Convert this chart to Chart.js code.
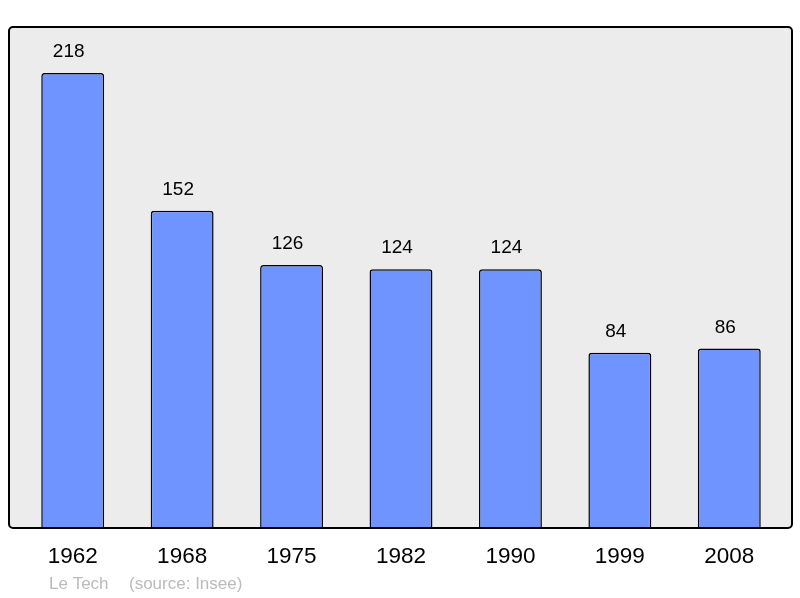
<!DOCTYPE html>
<html>
<head>
<meta charset="utf-8">
<script src="https://cdn.jsdelivr.net/npm/chart.js@4"></script>
<style>
  html, body { margin: 0; padding: 0; background: #ffffff; }
  #wrap { width: 800px; height: 598px; position: relative; }
</style>
</head>
<body>
<div id="wrap"><canvas id="myChart" width="800" height="598"></canvas></div>
<script>
const years = ["1962", "1968", "1975", "1982", "1990", "1999", "2008"];
const population = [218, 152, 126, 124, 124, 84, 86];
const yMax = 240;
const footerAuthor = "Le Tech";
const footerSource = "(source: Insee)";

const ctx = document.getElementById("myChart");

// frame, value labels, year labels and footer
const decorations = {
  id: "decorations",
  beforeDatasetsDraw(chart) {
    const c = chart.ctx;
    c.save();
    c.beginPath();
    c.roundRect(9, 27, 783, 501, 4);
    c.fillStyle = "#ececec";
    c.fill();
    c.restore();
  },
  afterDraw(chart) {
    const c = chart.ctx;
    const xs = chart.scales.x;
    const meta = chart.getDatasetMeta(0);
    c.save();
    c.beginPath();
    c.roundRect(9, 27, 783, 501, 4);
    c.lineWidth = 2;
    c.strokeStyle = "#000000";
    c.stroke();

    c.fillStyle = "#000000";
    c.textAlign = "center";
    c.textBaseline = "middle";
    c.font = "19px 'Liberation Sans', Arial, sans-serif";
    meta.data.forEach((bar, i) => {
      c.fillText(String(population[i]), bar.x - 4, bar.y - 21);
    });

    c.font = "22.5px 'Liberation Sans', Arial, sans-serif";
    years.forEach((y, i) => {
      c.fillText(y, xs.getPixelForValue(i), 557);
    });

    c.fillStyle = "#bbbbbb";
    c.textAlign = "left";
    c.font = "17px 'Liberation Sans', Arial, sans-serif";
    c.fillText(footerAuthor, 49, 584);
    c.fillText(footerSource, 129, 584);
    c.restore();
  },
};

new Chart(ctx, {
  type: "bar",
  data: {
    labels: years,
    datasets: [
      {
        data: population,
        backgroundColor: "#7094ff",
        borderColor: "#000000",
        borderWidth: 1.5,
        borderRadius: { topLeft: 3, topRight: 3 },
        borderSkipped: "bottom",
        categoryPercentage: 1,
        barPercentage: 0.575,
      },
    ],
  },
  options: {
    responsive: false,
    animation: false,
    layout: { padding: { left: 18, right: 16, top: 27, bottom: 70 } },
    plugins: { legend: { display: false }, tooltip: { enabled: false } },
    scales: {
      x: { display: false },
      y: { display: false, min: 0, max: yMax },
    },
  },
  plugins: [decorations],
});
</script>
</body>
</html>
